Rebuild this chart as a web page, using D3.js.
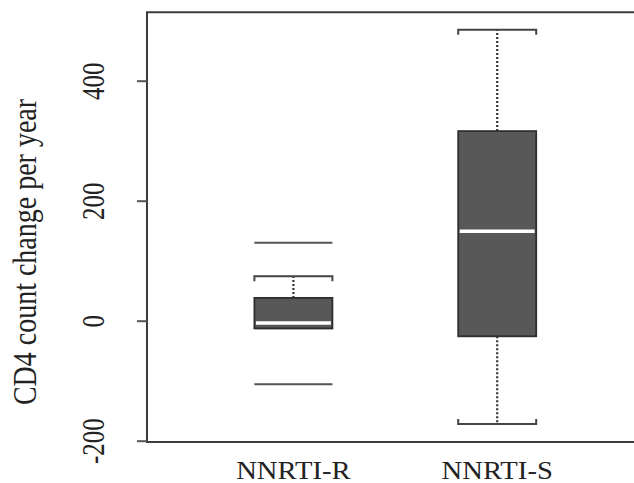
<!DOCTYPE html>
<html lang="en">

<head>
    <meta charset="UTF-8">
    <script src="https://d3js.org/d3.v7.min.js"></script>
    <title>CD4 boxplot</title>
    <style>
        body { margin: 0; background: #fff; }
    </style>
</head>

<body>
    <div id="container"></div>
    <script>
        // data
        const groups = ["NNRTI-R", "NNRTI-S"];
        const whiskerLow = [-13, -172];
        const q1 = [-13, -26];
        const median = [-4, 149];
        const q3 = [38, 316];
        const whiskerHigh = [74, 485];
        const outliers = [[130, -106], []];
        const yTicks = [-200, 0, 200, 400];
        const yTitle = "CD4 count change per year";

        const width = 634, height = 483;
        const svg = d3.select("#container")
            .append("svg")
            .attr("width", width)
            .attr("height", height);

        const font = "'Liberation Serif', 'Times New Roman', serif";
        const ink = "#222";

        let y = d3.scaleLinear()
            .domain([-200, 400])
            .range([440.7, 80.7]);
        let x = d3.scalePoint()
            .domain(groups)
            .range([293.4, 497.2]);
        const half = 39;
        const left = 147;

        // frame (right side falls outside the picture)
        svg.append("path")
            .attr("d", `M${width + 10},${y(514)} H${left} V${y(-202)} H${width + 10}`)
            .attr("fill", "none")
            .attr("stroke", "#3c3c3c")
            .attr("stroke-width", 2);

        // y axis
        let axis = svg.append("g")
            .attr("transform", `translate(${left},0)`)
            .call(d3.axisLeft(y).tickValues(yTicks).tickSize(10).tickSizeOuter(0).tickFormat(d => String(d)));
        axis.select(".domain").remove();
        axis.selectAll(".tick line")
            .attr("stroke", "#555")
            .attr("stroke-width", 2);
        axis.selectAll(".tick text")
            .attr("x", null).attr("dy", null)
            .attr("text-anchor", "middle")
            .attr("transform", "translate(-43.5,0) scale(1.24,1) rotate(-90)")
            .style("font-family", font)
            .style("font-size", "25px")
            .attr("fill", ink);

        // y title
        svg.append("text")
            .attr("transform", "translate(36,252) scale(1.18,1) rotate(-90)")
            .attr("text-anchor", "middle")
            .style("font-family", font)
            .style("font-size", "28px")
            .attr("fill", ink)
            .text(yTitle);

        // x labels
        svg.append("g")
            .selectAll("text")
            .data(groups)
            .enter()
            .append("text")
            .attr("transform", d => `translate(${x(d)},478.5) scale(1.17,1)`)
            .attr("text-anchor", "middle")
            .style("font-family", font)
            .style("font-size", "24.5px")
            .attr("fill", ink)
            .text(d => d);

        let g = svg.append("g");
        groups.forEach((name, i) => {
            const cx = x(name);
            // whiskers
            [[q3[i], whiskerHigh[i], 1], [q1[i], whiskerLow[i], -1]].forEach(([from, to, dir]) => {
                if (from === to) return;
                g.append("line")
                    .attr("x1", cx).attr("x2", cx)
                    .attr("y1", y(from)).attr("y2", y(to))
                    .attr("stroke", "#333")
                    .attr("stroke-width", 2.2)
                    .attr("stroke-dasharray", "2 2");
                g.append("path")
                    .attr("d", `M${cx - half},${y(to) + 5 * dir} V${y(to)} H${cx + half} V${y(to) + 5 * dir}`)
                    .attr("fill", "none")
                    .attr("stroke", "#444")
                    .attr("stroke-width", 2);
            });
            // box
            g.append("rect")
                .attr("x", cx - half)
                .attr("width", half * 2)
                .attr("y", y(q3[i]))
                .attr("height", y(q1[i]) - y(q3[i]))
                .attr("fill", "#585858")
                .attr("stroke", "#2e2e2e")
                .attr("stroke-width", 1.8);
            // median
            g.append("line")
                .attr("x1", cx - half + 1.5).attr("x2", cx + half - 1.5)
                .attr("y1", y(median[i])).attr("y2", y(median[i]))
                .attr("stroke", "#fff")
                .attr("stroke-width", 3.5);
            // outliers drawn as lines
            outliers[i].forEach(v => {
                g.append("line")
                    .attr("x1", cx - half).attr("x2", cx + half)
                    .attr("y1", y(v)).attr("y2", y(v))
                    .attr("stroke", "#555")
                    .attr("stroke-width", 2);
            });
        });
    </script>
</body>

</html>
